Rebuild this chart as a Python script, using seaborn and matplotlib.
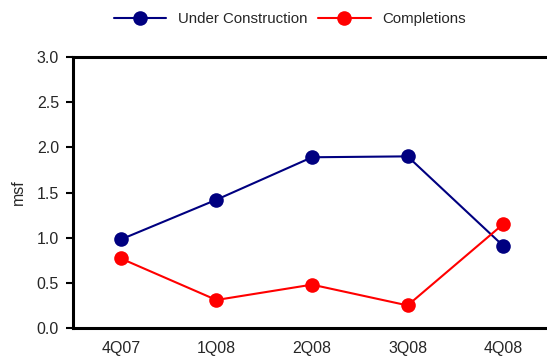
import pandas as pd
import matplotlib.pyplot as plt
import seaborn as sns
from matplotlib.ticker import FixedLocator

# Data
quarters = ['4Q07', '1Q08', '2Q08', '3Q08', '4Q08']
under_construction = [0.98, 1.42, 1.89, 1.90, 0.91]
completions = [0.77, 0.31, 0.48, 0.25, 1.15]

df = pd.DataFrame({
    'Quarter': quarters * 2,
    'msf': under_construction + completions,
    'Series': ['Under Construction'] * 5 + ['Completions'] * 5,
})

sns.set_style('white')
plt.rcParams['font.family'] = ['Liberation Sans', 'DejaVu Sans']
fs = 11.5

fig = plt.figure(figsize=(5.47, 3.58), dpi=100)
ax = fig.add_axes([73 / 547, 30 / 358, 478 / 547, 271 / 358])

sns.lineplot(data=df, x='Quarter', y='msf', hue='Series', sort=False,
             palette={'Under Construction': '#000080', 'Completions': '#FF0000'},
             marker='o', markersize=10.5, markeredgewidth=0, linewidth=1.5,
             ax=ax)

ax.set_xlim(-0.5, 4.5)
ax.set_ylim(0, 3.0)
ax.set_yticks([0, 0.5, 1.0, 1.5, 2.0, 2.5, 3.0])
ax.set_yticklabels([f'{v:.1f}' for v in ax.get_yticks()], fontsize=fs)
ax.set_xticks(range(len(quarters)))
ax.set_xticklabels(quarters, fontsize=fs)
ax.xaxis.set_minor_locator(FixedLocator([i - 0.5 for i in range(len(quarters) + 1)]))
ax.tick_params(axis='x', which='major', length=0, pad=9)
ax.tick_params(axis='x', which='minor', length=5, width=1.5, direction='out', color='black')
ax.tick_params(axis='y', length=5, width=1.5, direction='out', color='black', left=True, pad=5)
ax.set_xlabel('')
ax.set_ylabel('msf', fontsize=fs, labelpad=8)

for side in ['left', 'top', 'bottom', 'right']:
    ax.spines[side].set_color('black')
    ax.spines[side].set_linewidth(2.2)

handles, labels = ax.get_legend_handles_labels()
ax.legend(handles, labels, loc='center', bbox_to_anchor=(290 / 547, (358 - 19) / 358),
          bbox_transform=fig.transFigure, ncol=2, frameon=False, fontsize=10.8,
          handlelength=3.5, columnspacing=0.7, handletextpad=0.8)

fig.savefig('out.png', dpi=100)
